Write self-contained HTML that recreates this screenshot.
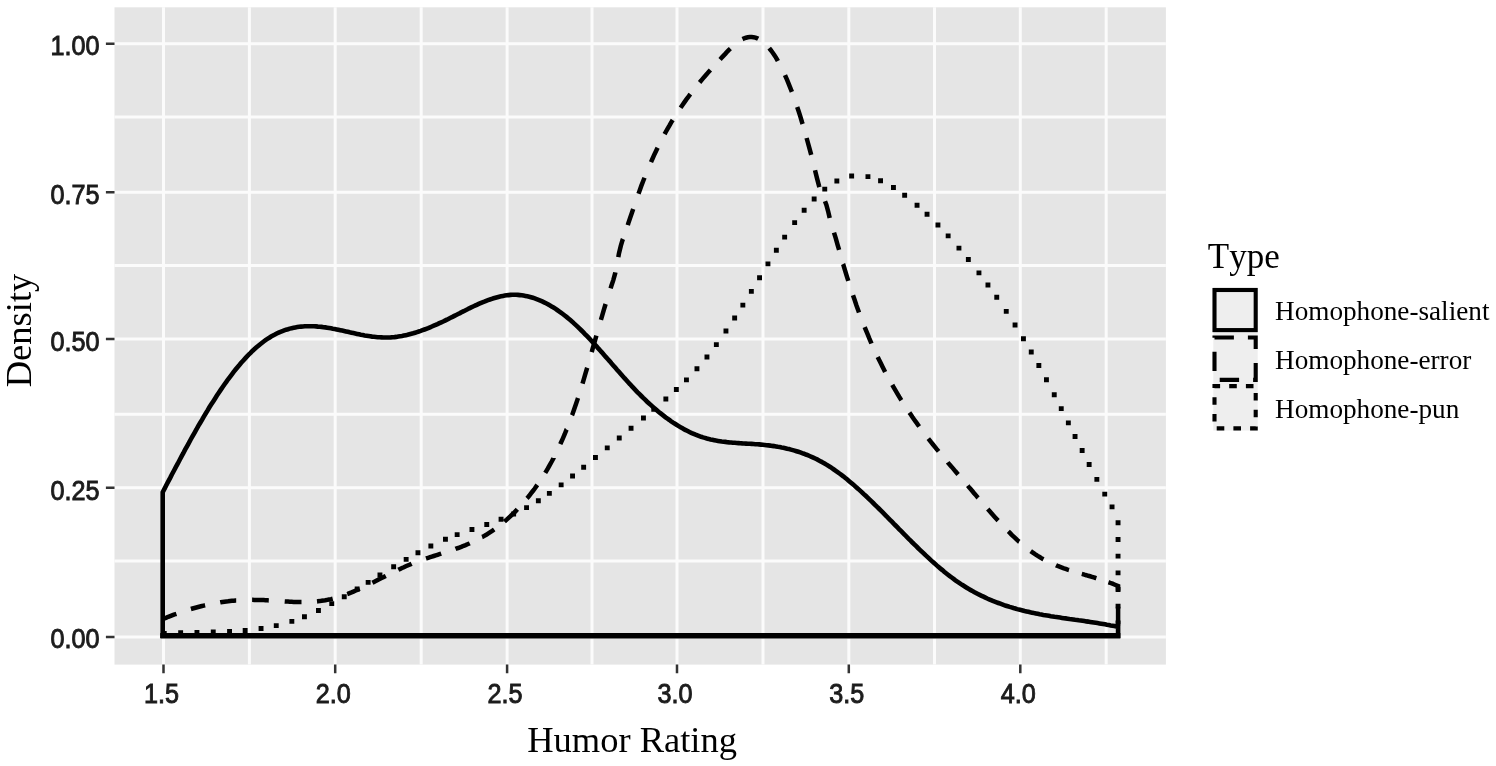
<!DOCTYPE html>
<html lang="en"><head><meta charset="utf-8"><title>Density of Humor Rating by Type</title>
<style>html,body{margin:0;padding:0;background:#fff}body{width:1496px;height:766px;overflow:hidden}svg{display:block;filter:blur(0.55px)}text{font-kerning:none}.tk{font-family:"Liberation Sans",Arial,sans-serif;font-size:28px;fill:#1c1c1c;stroke:#1c1c1c;stroke-width:0.95px}.ax{font-family:"Liberation Serif","Times New Roman",serif;font-size:36.5px;fill:#000}.lt{font-family:"Liberation Serif","Times New Roman",serif;font-size:35px;fill:#000}.ll{font-family:"Liberation Serif","Times New Roman",serif;font-size:27.2px;fill:#000}.cv{fill:none;stroke:#000;stroke-width:4.6;stroke-linejoin:miter;stroke-linecap:butt}</style></head><body>
<svg width="1496" height="766" viewBox="0 0 1496 766">
<rect x="0" y="0" width="1496" height="766" fill="#ffffff"/>
<rect x="114.5" y="7.3" width="1051.40" height="657.30" fill="#e5e5e5"/>
<path d="M163.50,7.3 V664.6 M249.40,7.3 V664.6 M335.20,7.3 V664.6 M421.20,7.3 V664.6 M507.10,7.3 V664.6 M592.00,7.3 V664.6 M677.00,7.3 V664.6 M763.00,7.3 V664.6 M848.80,7.3 V664.6 M934.50,7.3 V664.6 M1020.30,7.3 V664.6 M1106.20,7.3 V664.6 M114.5,637.00 H1165.9 M114.5,560.90 H1165.9 M114.5,487.80 H1165.9 M114.5,414.30 H1165.9 M114.5,339.00 H1165.9 M114.5,265.60 H1165.9 M114.5,192.30 H1165.9 M114.5,117.00 H1165.9 M114.5,43.65 H1165.9" stroke="#fbfbfb" stroke-width="3.0" fill="none"/>
<path d="M163.50,664.6 v8.6 M335.20,664.6 v8.6 M507.10,664.6 v8.6 M677.00,664.6 v8.6 M848.80,664.6 v8.6 M1020.30,664.6 v8.6 M114.5,637.00 h-8.6 M114.5,487.80 h-8.6 M114.5,339.00 h-8.6 M114.5,192.30 h-8.6 M114.5,43.65 h-8.6" stroke="#333" stroke-width="2.5" fill="none"/>
<text class="tk" transform="translate(161.5,702.6) scale(0.9,1)" text-anchor="middle">1.5</text>
<text class="tk" transform="translate(333.2,702.6) scale(0.9,1)" text-anchor="middle">2.0</text>
<text class="tk" transform="translate(505.1,702.6) scale(0.9,1)" text-anchor="middle">2.5</text>
<text class="tk" transform="translate(675.0,702.6) scale(0.9,1)" text-anchor="middle">3.0</text>
<text class="tk" transform="translate(846.8,702.6) scale(0.9,1)" text-anchor="middle">3.5</text>
<text class="tk" transform="translate(1018.3,702.6) scale(0.9,1)" text-anchor="middle">4.0</text>
<text class="tk" transform="translate(99.6,647.7) scale(0.9,1)" text-anchor="end">0.00</text>
<text class="tk" transform="translate(99.6,499.9) scale(0.9,1)" text-anchor="end">0.25</text>
<text class="tk" transform="translate(99.6,350.5) scale(0.9,1)" text-anchor="end">0.50</text>
<text class="tk" transform="translate(99.6,203.8) scale(0.9,1)" text-anchor="end">0.75</text>
<text class="tk" transform="translate(99.6,55.1) scale(0.9,1)" text-anchor="end">1.00</text>
<path class="cv" d="M162.7,492.2 L164.6,488.6 L166.4,485.0 L168.3,481.4 L170.2,477.9 L172.0,474.3 L173.9,470.7 L175.8,467.2 L177.7,463.7 L179.5,460.2 L181.4,456.7 L183.3,453.2 L185.1,449.7 L187.0,446.3 L188.9,442.9 L190.7,439.5 L192.6,436.1 L194.5,432.8 L196.4,429.5 L198.2,426.2 L200.1,423.0 L202.0,419.8 L203.8,416.6 L205.7,413.5 L207.6,410.4 L209.4,407.3 L211.3,404.3 L213.2,401.4 L215.1,398.4 L216.9,395.5 L218.8,392.7 L220.7,389.9 L222.5,387.2 L224.4,384.5 L226.3,381.9 L228.1,379.3 L230.0,376.8 L231.9,374.3 L233.7,371.9 L235.6,369.5 L237.5,367.2 L239.4,365.0 L241.2,362.8 L243.1,360.7 L245.0,358.6 L246.8,356.7 L248.7,354.7 L250.6,352.9 L252.4,351.0 L254.3,349.3 L256.2,347.6 L258.1,346.0 L259.9,344.5 L261.8,343.0 L263.7,341.5 L265.5,340.2 L267.4,338.9 L269.3,337.7 L271.1,336.5 L273.0,335.5 L274.9,334.5 L276.7,333.5 L278.6,332.6 L280.5,331.8 L282.4,331.1 L284.2,330.4 L286.1,329.7 L288.0,329.2 L289.8,328.6 L291.7,328.2 L293.6,327.8 L295.4,327.4 L297.3,327.1 L299.2,326.8 L301.1,326.6 L302.9,326.5 L304.8,326.3 L306.7,326.3 L308.5,326.2 L310.4,326.2 L312.3,326.3 L314.1,326.3 L316.0,326.4 L317.9,326.6 L319.8,326.7 L321.6,326.9 L323.5,327.2 L325.4,327.4 L327.2,327.7 L329.1,328.0 L331.0,328.3 L332.8,328.7 L334.7,329.0 L336.6,329.4 L338.4,329.8 L340.3,330.2 L342.2,330.6 L344.1,331.0 L345.9,331.4 L347.8,331.8 L349.7,332.3 L351.5,332.7 L353.4,333.1 L355.3,333.5 L357.1,333.9 L359.0,334.3 L360.9,334.7 L362.8,335.0 L364.6,335.4 L366.5,335.7 L368.4,336.0 L370.2,336.3 L372.1,336.6 L374.0,336.8 L375.8,337.0 L377.7,337.2 L379.6,337.3 L381.5,337.4 L383.3,337.5 L385.2,337.5 L387.1,337.5 L388.9,337.5 L390.8,337.4 L392.7,337.2 L394.5,337.1 L396.4,336.9 L398.3,336.6 L400.1,336.3 L402.0,336.0 L403.9,335.6 L405.8,335.2 L407.6,334.8 L409.5,334.3 L411.4,333.8 L413.2,333.3 L415.1,332.7 L417.0,332.1 L418.8,331.5 L420.7,330.9 L422.6,330.2 L424.5,329.5 L426.3,328.8 L428.2,328.1 L430.1,327.3 L431.9,326.5 L433.8,325.7 L435.7,324.9 L437.5,324.1 L439.4,323.2 L441.3,322.3 L443.2,321.5 L445.0,320.6 L446.9,319.7 L448.8,318.7 L450.6,317.8 L452.5,316.9 L454.4,315.9 L456.2,315.0 L458.1,314.0 L460.0,313.1 L461.8,312.1 L463.7,311.2 L465.6,310.2 L467.5,309.3 L469.3,308.3 L471.2,307.4 L473.1,306.5 L474.9,305.7 L476.8,304.8 L478.7,303.9 L480.5,303.1 L482.4,302.3 L484.3,301.6 L486.2,300.8 L488.0,300.1 L489.9,299.5 L491.8,298.8 L493.6,298.2 L495.5,297.7 L497.4,297.2 L499.2,296.7 L501.1,296.3 L503.0,295.9 L504.8,295.6 L506.7,295.3 L508.6,295.1 L510.5,294.9 L512.3,294.8 L514.2,294.8 L516.1,294.8 L517.9,294.9 L519.8,295.1 L521.7,295.3 L523.5,295.6 L525.4,295.9 L527.3,296.3 L529.2,296.7 L531.0,297.2 L532.9,297.8 L534.8,298.4 L536.6,299.1 L538.5,299.8 L540.4,300.6 L542.2,301.4 L544.1,302.3 L546.0,303.2 L547.9,304.2 L549.7,305.3 L551.6,306.4 L553.5,307.5 L555.3,308.7 L557.2,310.0 L559.1,311.3 L560.9,312.6 L562.8,314.0 L564.7,315.5 L566.5,316.9 L568.4,318.5 L570.3,320.1 L572.2,321.7 L574.0,323.4 L575.9,325.1 L577.8,326.8 L579.6,328.6 L581.5,330.5 L583.4,332.4 L585.2,334.3 L587.1,336.2 L589.0,338.2 L590.9,340.2 L592.7,342.2 L594.6,344.2 L596.5,346.3 L598.3,348.4 L600.2,350.5 L602.1,352.6 L603.9,354.7 L605.8,356.9 L607.7,359.0 L609.6,361.1 L611.4,363.3 L613.3,365.4 L615.2,367.6 L617.0,369.7 L618.9,371.8 L620.8,374.0 L622.6,376.1 L624.5,378.2 L626.4,380.2 L628.2,382.3 L630.1,384.3 L632.0,386.4 L633.9,388.4 L635.7,390.3 L637.6,392.3 L639.5,394.2 L641.3,396.0 L643.2,397.9 L645.1,399.7 L646.9,401.5 L648.8,403.2 L650.7,404.9 L652.6,406.6 L654.4,408.2 L656.3,409.8 L658.2,411.4 L660.0,412.9 L661.9,414.4 L663.8,415.9 L665.6,417.3 L667.5,418.7 L669.4,420.0 L671.2,421.3 L673.1,422.6 L675.0,423.8 L676.9,425.0 L678.7,426.1 L680.6,427.3 L682.5,428.3 L684.3,429.4 L686.2,430.3 L688.1,431.3 L689.9,432.2 L691.8,433.1 L693.7,433.9 L695.6,434.7 L697.4,435.4 L699.3,436.1 L701.2,436.8 L703.0,437.4 L704.9,437.9 L706.8,438.5 L708.6,438.9 L710.5,439.4 L712.4,439.8 L714.3,440.2 L716.1,440.6 L718.0,440.9 L719.9,441.2 L721.7,441.5 L723.6,441.7 L725.5,441.9 L727.3,442.2 L729.2,442.4 L731.1,442.5 L732.9,442.7 L734.8,442.8 L736.7,443.0 L738.6,443.1 L740.4,443.2 L742.3,443.4 L744.2,443.5 L746.0,443.6 L747.9,443.7 L749.8,443.8 L751.6,443.9 L753.5,444.0 L755.4,444.2 L757.3,444.3 L759.1,444.4 L761.0,444.6 L762.9,444.8 L764.7,445.0 L766.6,445.2 L768.5,445.4 L770.3,445.6 L772.2,445.9 L774.1,446.1 L776.0,446.4 L777.8,446.8 L779.7,447.1 L781.6,447.5 L783.4,447.8 L785.3,448.2 L787.2,448.7 L789.0,449.1 L790.9,449.6 L792.8,450.1 L794.6,450.6 L796.5,451.2 L798.4,451.8 L800.3,452.4 L802.1,453.1 L804.0,453.7 L805.9,454.5 L807.7,455.2 L809.6,456.0 L811.5,456.8 L813.3,457.6 L815.2,458.5 L817.1,459.4 L819.0,460.4 L820.8,461.4 L822.7,462.4 L824.6,463.5 L826.4,464.6 L828.3,465.8 L830.2,466.9 L832.0,468.2 L833.9,469.5 L835.8,470.8 L837.6,472.1 L839.5,473.5 L841.4,474.9 L843.3,476.3 L845.1,477.8 L847.0,479.3 L848.9,480.9 L850.7,482.4 L852.6,484.0 L854.5,485.6 L856.3,487.3 L858.2,488.9 L860.1,490.6 L862.0,492.3 L863.8,494.1 L865.7,495.8 L867.6,497.6 L869.4,499.4 L871.3,501.2 L873.2,503.0 L875.0,504.8 L876.9,506.7 L878.8,508.5 L880.7,510.4 L882.5,512.2 L884.4,514.1 L886.3,516.0 L888.1,517.9 L890.0,519.8 L891.9,521.7 L893.7,523.6 L895.6,525.5 L897.5,527.4 L899.3,529.3 L901.2,531.2 L903.1,533.1 L905.0,535.0 L906.8,536.9 L908.7,538.8 L910.6,540.6 L912.4,542.5 L914.3,544.3 L916.2,546.2 L918.0,548.0 L919.9,549.8 L921.8,551.6 L923.7,553.4 L925.5,555.2 L927.4,556.9 L929.3,558.7 L931.1,560.4 L933.0,562.1 L934.9,563.7 L936.7,565.4 L938.6,567.0 L940.5,568.6 L942.4,570.1 L944.2,571.7 L946.1,573.2 L948.0,574.7 L949.8,576.1 L951.7,577.5 L953.6,578.9 L955.4,580.3 L957.3,581.6 L959.2,582.9 L961.0,584.1 L962.9,585.3 L964.8,586.5 L966.7,587.7 L968.5,588.8 L970.4,589.9 L972.3,590.9 L974.1,592.0 L976.0,593.0 L977.9,594.0 L979.7,594.9 L981.6,595.8 L983.5,596.7 L985.4,597.6 L987.2,598.5 L989.1,599.3 L991.0,600.1 L992.8,600.9 L994.7,601.6 L996.6,602.3 L998.4,603.0 L1000.3,603.7 L1002.2,604.4 L1004.1,605.1 L1005.9,605.7 L1007.8,606.3 L1009.7,606.9 L1011.5,607.4 L1013.4,608.0 L1015.3,608.5 L1017.1,609.1 L1019.0,609.6 L1020.9,610.0 L1022.7,610.5 L1024.6,611.0 L1026.5,611.4 L1028.4,611.8 L1030.2,612.3 L1032.1,612.7 L1034.0,613.1 L1035.8,613.4 L1037.7,613.8 L1039.6,614.2 L1041.4,614.5 L1043.3,614.9 L1045.2,615.2 L1047.1,615.5 L1048.9,615.8 L1050.8,616.2 L1052.7,616.5 L1054.5,616.8 L1056.4,617.0 L1058.3,617.3 L1060.1,617.6 L1062.0,617.9 L1063.9,618.2 L1065.7,618.4 L1067.6,618.7 L1069.5,619.0 L1071.4,619.2 L1073.2,619.5 L1075.1,619.8 L1077.0,620.0 L1078.8,620.3 L1080.7,620.5 L1082.6,620.8 L1084.4,621.1 L1086.3,621.4 L1088.2,621.6 L1090.1,621.9 L1091.9,622.2 L1093.8,622.5 L1095.7,622.8 L1097.5,623.1 L1099.4,623.4 L1101.3,623.7 L1103.1,624.0 L1105.0,624.3 L1106.9,624.7 L1108.8,625.0 L1110.6,625.4 L1112.5,625.7 L1114.4,626.1 L1116.2,626.5 L1118.1,626.9 L1118.1,635.7 L162.7,635.7 Z"/>
<path d="M160.4,635.7 H1120.4" stroke="#000" stroke-width="5.5" fill="none"/>
<path class="cv" style="stroke-width:4.5" d="M162.7,619.1 L164.6,618.3 L166.4,617.6 L168.3,616.8 L170.2,616.1 L172.0,615.4 L173.9,614.7 L175.8,614.0 L176.4,613.8 M190.9,609.0 L192.6,608.5 L194.5,608.0 L196.4,607.5 L198.2,607.0 L200.1,606.5 L202.0,606.0 L203.8,605.6 L205.1,605.3 M220.2,602.4 L220.7,602.3 L222.5,602.0 L224.4,601.7 L226.3,601.5 L228.1,601.3 L230.0,601.0 L231.9,600.8 L233.7,600.7 L235.6,600.5 L236.2,600.5 M252.1,599.8 L252.4,599.8 L254.3,599.9 L256.2,599.9 L258.1,599.9 L259.9,600.0 L261.8,600.1 L263.7,600.1 L265.5,600.2 L267.4,600.3 L268.8,600.4 M284.7,601.4 L286.1,601.5 L288.0,601.6 L289.8,601.7 L291.7,601.8 L293.6,601.9 L295.4,601.9 L297.3,602.0 L299.2,602.0 L301.1,602.0 L301.5,602.0 M317.0,601.4 L317.9,601.3 L319.8,601.1 L321.6,600.8 L323.5,600.6 L325.4,600.3 L327.2,599.9 L329.1,599.5 L331.0,599.1 L332.7,598.7 M347.2,594.1 L347.8,593.9 L349.7,593.1 L351.5,592.4 L353.4,591.6 L355.3,590.8 L357.1,590.0 L359.0,589.1 L359.7,588.8 M372.4,582.7 L374.0,581.9 L375.8,581.0 L377.7,580.0 L379.6,579.1 L381.5,578.1 L383.3,577.2 L385.2,576.2 L385.8,575.9 M398.3,569.8 L398.3,569.8 L400.1,568.9 L402.0,568.0 L403.9,567.2 L405.8,566.3 L407.6,565.5 L409.5,564.7 L411.4,563.9 L411.6,563.8 M426.0,558.5 L426.3,558.4 L428.2,557.8 L430.1,557.2 L431.9,556.6 L433.8,556.0 L435.7,555.4 L437.5,554.8 L439.4,554.2 L441.2,553.6 M455.5,548.9 L456.2,548.6 L458.1,548.0 L460.0,547.3 L461.8,546.6 L463.7,545.8 L465.6,545.1 L467.5,544.3 L469.3,543.5 L469.7,543.3 M482.1,537.1 L482.4,537.0 L484.3,535.9 L486.2,534.8 L488.0,533.6 L489.9,532.4 L491.8,531.2 L493.6,529.9 L494.2,529.5 M504.4,521.6 L504.8,521.2 L506.7,519.6 L508.6,517.9 L510.5,516.2 L512.3,514.4 L514.2,512.6 L516.1,510.7 L517.3,509.3 M527.0,498.4 L527.3,498.1 L529.2,495.8 L531.0,493.4 L532.9,491.0 L534.8,488.5 L536.6,485.9 L537.3,484.9 M545.2,472.9 L546.0,471.6 L547.9,468.4 L549.7,465.2 L551.6,461.8 L553.5,458.2 L553.5,458.1 M560.3,444.1 L560.9,442.8 L562.8,438.6 L564.7,434.2 L566.5,429.6 L566.6,429.5 M572.0,415.3 L572.2,414.9 L574.0,409.7 L575.9,404.2 L577.8,398.6 L578.0,398.0 M582.5,383.6 L583.4,380.6 L585.2,374.3 L587.1,368.0 L587.2,367.7 M591.7,352.1 L592.7,348.4 L594.6,341.8 L596.4,335.6 M600.9,319.9 L602.1,315.9 L603.9,309.6 L605.6,304.0 M610.6,288.4 L611.4,285.8 L613.3,280.1 L615.2,273.2 L615.3,272.4 M618.3,257.2 L618.9,253.8 L620.8,245.9 L622.6,239.9 L623.0,239.0 M627.8,225.1 L628.2,223.6 L630.1,218.1 L632.0,212.5 L633.2,209.1 M638.5,193.7 L639.5,191.0 L641.3,185.9 L643.2,181.0 L644.5,177.7 M651.0,162.1 L652.6,158.5 L654.4,154.4 L656.3,150.5 L657.6,147.7 M664.6,134.1 L665.6,132.2 L667.5,128.8 L669.4,125.6 L671.2,122.4 L672.7,120.0 M680.6,107.7 L682.5,105.0 L684.3,102.4 L686.2,99.7 L688.1,97.2 L689.9,94.7 L690.4,94.1 M699.6,82.4 L701.2,80.6 L703.0,78.4 L704.9,76.2 L706.8,74.1 L708.6,71.9 L710.4,70.0 M720.1,59.4 L721.7,57.6 L723.6,55.6 L725.5,53.6 L727.3,51.6 L729.2,49.7 L730.4,48.6 M742.5,39.1 L744.2,38.3 L746.0,37.7 L747.9,37.2 L749.8,37.0 L751.6,37.0 L753.5,37.2 L755.4,37.6 L757.3,38.3 L758.2,38.8 M769.2,48.1 L770.3,49.5 L772.2,52.0 L774.1,54.7 L776.0,57.6 L777.8,60.8 L777.9,61.0 M785.0,75.1 L785.3,75.8 L787.2,80.1 L789.0,84.6 L790.9,89.3 L791.9,91.9 M797.2,107.0 L798.4,110.5 L800.3,116.4 L802.1,122.5 L802.6,124.0 M806.6,138.0 L807.7,142.0 L809.6,148.9 L811.2,154.9 M815.0,170.2 L815.2,171.0 L817.1,178.6 L819.0,185.8 L819.4,187.1 M825.0,201.2 L826.4,204.9 L828.3,212.0 L829.7,218.0 M834.0,232.6 L835.8,238.3 L837.6,244.8 L839.1,249.9 M843.1,264.1 L843.3,264.5 L845.1,270.7 L847.0,276.8 L848.3,280.9 M853.0,295.3 L854.5,299.6 L856.3,305.0 L858.2,310.2 L859.0,312.4 M864.7,327.1 L865.7,329.7 L867.6,334.2 L869.4,338.7 L871.3,343.0 L871.5,343.5 M877.7,357.1 L878.8,359.3 L880.7,363.1 L882.5,366.8 L884.4,370.5 L885.1,371.9 M892.3,384.9 L893.7,387.5 L895.6,390.7 L897.5,393.8 L899.3,396.9 L901.2,399.9 L901.4,400.2 M909.4,412.6 L910.6,414.3 L912.4,417.0 L914.3,419.7 L916.2,422.3 L918.0,424.9 L919.2,426.5 M928.3,438.6 L929.3,439.8 L931.1,442.2 L933.0,444.5 L934.9,446.8 L936.7,449.1 L938.6,451.4 L938.6,451.4 M947.8,462.3 L948.0,462.6 L949.8,464.8 L951.7,466.9 L953.6,469.1 L955.4,471.3 L957.3,473.5 L958.1,474.4 M967.8,485.7 L968.5,486.6 L970.4,488.8 L972.3,491.0 L974.1,493.2 L976.0,495.4 L977.9,497.6 L978.1,497.8 M987.8,509.0 L989.1,510.6 L991.0,512.7 L992.8,514.8 L994.7,516.9 L996.6,519.0 L998.1,520.6 M1008.3,531.4 L1009.7,532.7 L1011.5,534.6 L1013.4,536.4 L1015.3,538.1 L1017.1,539.9 L1019.0,541.6 L1019.2,541.7 M1030.7,551.1 L1032.1,552.1 L1034.0,553.4 L1035.8,554.7 L1037.7,555.9 L1039.6,557.0 L1041.4,558.1 L1043.3,559.2 L1043.5,559.3 M1056.0,565.2 L1056.4,565.4 L1058.3,566.2 L1060.1,566.9 L1062.0,567.6 L1063.9,568.3 L1065.7,568.9 L1067.6,569.6 L1069.0,570.0 M1081.8,573.9 L1082.6,574.1 L1084.4,574.7 L1086.3,575.2 L1088.2,575.8 L1090.1,576.3 L1091.9,576.8 L1093.8,577.4 L1095.7,578.0 L1096.4,578.2 M1108.5,582.2 L1108.8,582.3 L1110.6,583.0 L1112.5,583.7 L1114.4,584.5 L1116.2,585.3 L1118.1,586.1 L1118.1,590.7 M1118.1,606.8 L1118.1,624.1 M177.8,635.7 L162.7,635.7 L162.7,633.2"/>
<path fill="#000" d="M161.8,631.1h4.9v4.9h-4.9z M178.2,630.3h4.9v4.9h-4.9z M194.5,629.9h4.9v4.9h-4.9z M210.8,629.6h4.9v4.9h-4.9z M227.1,629.1h4.9v4.9h-4.9z M242.7,628.0h4.9v4.9h-4.9z M258.6,626.1h4.9v4.9h-4.9z M273.8,623.2h4.9v4.9h-4.9z M289.4,618.9h4.9v4.9h-4.9z M302.0,614.3h4.9v4.9h-4.9z M316.0,608.0h4.9v4.9h-4.9z M329.3,601.2h4.9v4.9h-4.9z M341.8,594.3h4.9v4.9h-4.9z M354.7,586.6h4.9v4.9h-4.9z M365.7,579.9h4.9v4.9h-4.9z M377.5,572.6h4.9v4.9h-4.9z M391.2,564.3h4.9v4.9h-4.9z M403.7,556.9h4.9v4.9h-4.9z M415.5,550.3h4.9v4.9h-4.9z M428.4,543.5h4.9v4.9h-4.9z M443.0,536.8h4.9v4.9h-4.9z M454.7,532.2h4.9v4.9h-4.9z M469.5,527.0h4.9v4.9h-4.9z M484.3,522.0h4.9v4.9h-4.9z M498.6,516.8h4.9v4.9h-4.9z M511.2,511.6h4.9v4.9h-4.9z M524.1,505.2h4.9v4.9h-4.9z M535.9,498.3h4.9v4.9h-4.9z M546.9,490.9h4.9v4.9h-4.9z M558.7,482.4h4.9v4.9h-4.9z M570.1,473.6h4.9v4.9h-4.9z M581.2,464.8h4.9v4.9h-4.9z M593.0,455.1h4.9v4.9h-4.9z M604.8,445.4h4.9v4.9h-4.9z M616.8,435.5h4.9v4.9h-4.9z M628.6,425.8h4.9v4.9h-4.9z M641.0,415.5h4.9v4.9h-4.9z M651.3,406.8h4.9v4.9h-4.9z M663.4,396.5h4.9v4.9h-4.9z M673.9,387.1h4.9v4.9h-4.9z M684.0,377.4h4.9v4.9h-4.9z M694.5,366.3h4.9v4.9h-4.9z M704.5,354.5h4.9v4.9h-4.9z M713.9,342.2h4.9v4.9h-4.9z M723.5,328.6h4.9v4.9h-4.9z M732.2,315.5h4.9v4.9h-4.9z M740.4,302.7h4.9v4.9h-4.9z M748.9,288.9h4.9v4.9h-4.9z M757.1,275.3h4.9v4.9h-4.9z M765.5,261.4h4.9v4.9h-4.9z M773.9,247.8h4.9v4.9h-4.9z M782.2,234.7h4.9v4.9h-4.9z M792.2,220.2h4.9v4.9h-4.9z M801.7,207.8h4.9v4.9h-4.9z M811.7,196.5h4.9v4.9h-4.9z M822.3,186.7h4.9v4.9h-4.9z M834.4,178.5h4.9v4.9h-4.9z M849.2,173.6h4.9v4.9h-4.9z M865.5,174.2h4.9v4.9h-4.9z M878.1,178.3h4.9v4.9h-4.9z M891.0,185.1h4.9v4.9h-4.9z M902.2,192.8h4.9v4.9h-4.9z M914.6,202.8h4.9v4.9h-4.9z M924.6,211.8h4.9v4.9h-4.9z M935.5,222.6h4.9v4.9h-4.9z M945.7,233.4h4.9v4.9h-4.9z M956.5,245.7h4.9v4.9h-4.9z M965.9,257.0h4.9v4.9h-4.9z M976.5,270.4h4.9v4.9h-4.9z M985.5,282.5h4.9v4.9h-4.9z M994.3,294.8h4.9v4.9h-4.9z M1003.8,308.9h4.9v4.9h-4.9z M1012.6,322.5h4.9v4.9h-4.9z M1021.0,336.3h4.9v4.9h-4.9z M1028.8,349.6h4.9v4.9h-4.9z M1036.4,363.1h4.9v4.9h-4.9z M1044.0,377.3h4.9v4.9h-4.9z M1051.8,392.3h4.9v4.9h-4.9z M1058.8,406.2h4.9v4.9h-4.9z M1065.9,420.4h4.9v4.9h-4.9z M1072.6,434.0h4.9v4.9h-4.9z M1079.7,448.1h4.9v4.9h-4.9z M1086.7,462.1h4.9v4.9h-4.9z M1094.4,476.9h4.9v4.9h-4.9z M1102.3,491.7h4.9v4.9h-4.9z M1109.6,504.4h4.9v4.9h-4.9z M1115.6,520.3h4.9v4.9h-4.9z M1115.6,537.0h4.9v4.9h-4.9z M1115.6,553.7h4.9v4.9h-4.9z M1115.6,570.4h4.9v4.9h-4.9z M1115.6,587.0h4.9v4.9h-4.9z M1115.6,603.7h4.9v4.9h-4.9z M1115.6,620.4h4.9v4.9h-4.9z"/>
<text class="ax" x="632.1" y="751.8" text-anchor="middle">Humor Rating</text>
<text class="ax" transform="translate(31.2,330.5) rotate(-90)" text-anchor="middle">Density</text>
<text class="lt" x="1207.8" y="267.7">Type</text>
<rect x="1213.3" y="287.5" width="44.4" height="143" fill="#eeeeee"/>
<rect class="cv" style="stroke-width:4.1" x="1214.5" y="290.0" width="41.2" height="40.1"/>
<rect class="cv" style="stroke-width:4.1" x="1214.5" y="337.5" width="41.2" height="42.4" stroke-dasharray="19.4 14"/>
<rect class="cv" style="stroke-width:4.1" x="1214.5" y="386.1" width="41.2" height="42.3" stroke-dasharray="7.6 9.1" stroke-dashoffset="2"/>
<text class="ll" x="1275.0" y="320.3">Homophone-salient</text>
<text class="ll" x="1275.0" y="369.3">Homophone-error</text>
<text class="ll" x="1275.0" y="418.4">Homophone-pun</text>
</svg></body></html>
